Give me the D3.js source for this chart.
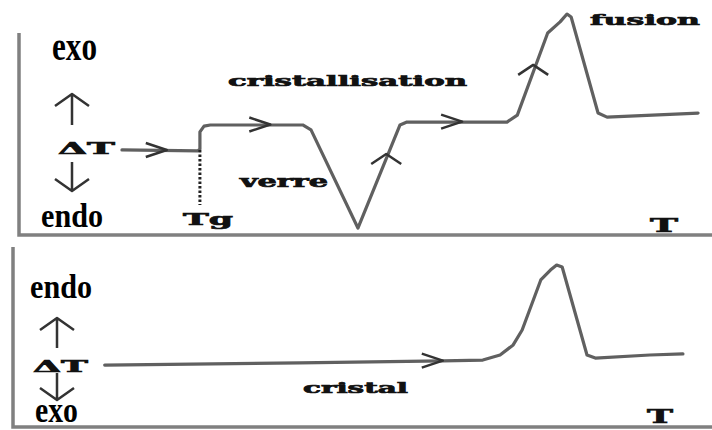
<!DOCTYPE html>
<html>
<head>
<meta charset="utf-8">
<script src="https://cdn.jsdelivr.net/npm/d3@7"></script>
<style>
  body { margin: 0; background: #fff; }
  svg { display: block; }
  .big { font-family: "Liberation Serif", serif; font-weight: bold; fill: #000; }
  .small { font-family: "DejaVu Serif", serif; font-weight: bold; fill: #111; stroke: #111; stroke-width: 0.7; }
</style>
</head>
<body>
<div id="d3-container"></div>
<script>
/**
 * DATA (arbitrary units: T from 0 to 100, ΔT from 0 to 100 in each panel)
 * */
// top panel: glass -> Tg -> crystallisation -> melting
const glassT = [15.5, 26.5, 26.8, 26.8, 27.4, 28.3, 41.7, 42.9, 49.7, 55.8, 56.8, 71.3, 72.8, 77.2, 79.0, 80.0, 80.6, 84.5, 85.8, 99.0];
const glassDT = [37.8, 37.4, 38.2, 45.8, 48.4, 48.9, 48.9, 46.7, 3.1, 48.9, 50.2, 50.2, 53.3, 89.8, 94.7, 98.2, 96.9, 54.2, 52.4, 54.2];
// bottom panel: crystal -> melting
const crystalT = [13.0, 41.3, 62.0, 67.8, 70.3, 72.2, 73.5, 76.2, 77.6, 78.5, 79.3, 82.9, 84.1, 92.0, 96.8];
const crystalDT = [34.4, 35.6, 36.7, 37.2, 40.0, 45.6, 53.9, 81.7, 87.2, 90.0, 88.9, 40.0, 38.3, 40.0, 40.6];
// direction markers along the curves
const glassArrows = [
  { T: 22.0, v: 37.8, dir: "right" },
  { T: 37.0, v: 49.1, dir: "right" },
  { T: 53.8, v: 36.0, dir: "up" },
  { T: 64.8, v: 50.4, dir: "right" },
  { T: 75.1, v: 75.6, dir: "up" }
];
const crystalArrows = [
  { T: 62.0, v: 36.9, dir: "right" }
];
const tgValue = 26.8;

const width = 712, height = 430;

const svg = d3.select("#d3-container")
  .append("svg")
  .attr("width", width)
  .attr("height", height);

// scales
const x = d3.scaleLinear().domain([0, 100]).range([15, 705]);
const yTop = d3.scaleLinear().domain([0, 100]).range([235, 10]);
const yBot = d3.scaleLinear().domain([0, 100]).range([427, 247]);

// axes frames (left + bottom lines of each panel)
const axisColor = "#808080";
svg.append("path")
  .attr("d", "M19,33 V235 H712")
  .attr("fill", "none").attr("stroke", axisColor).attr("stroke-width", 3.5);
svg.append("path")
  .attr("d", "M13,247 V427 H712")
  .attr("fill", "none").attr("stroke", axisColor).attr("stroke-width", 3.5);

// curves
function drawCurve(ts, vs, y) {
  const pts = ts.map((t, i) => [x(t), y(vs[i])]);
  svg.append("path")
    .attr("d", d3.line().curve(d3.curveLinear)(pts))
    .attr("fill", "none")
    .attr("stroke", "#606060")
    .attr("stroke-width", 3.2)
    .attr("stroke-linejoin", "round")
    .attr("stroke-linecap", "round");
}
drawCurve(glassT, glassDT, yTop);
drawCurve(crystalT, crystalDT, yBot);

// chevrons on the curves
function drawChevrons(arrows, y) {
  svg.selectAll(null)
    .data(arrows)
    .join("path")
    .attr("d", d => {
      const px = x(d.T), py = y(d.v);
      if (d.dir === "right") return `M${px - 21},${py - 7} L${px},${py} L${px - 21},${py + 7}`;
      return `M${px - 15},${py + 10} L${px},${py} L${px + 15},${py + 10}`;
    })
    .attr("fill", "none")
    .attr("stroke", "#333")
    .attr("stroke-width", 2.5)
    .attr("stroke-linejoin", "round");
}
drawChevrons(glassArrows, yTop);
drawChevrons(crystalArrows, yBot);

// Tg dotted line
svg.append("line")
  .attr("x1", x(tgValue)).attr("x2", x(tgValue))
  .attr("y1", yTop(37.8)).attr("y2", 205)
  .attr("stroke", "#222").attr("stroke-width", 3)
  .attr("stroke-dasharray", "2.5,2");

// vertical ΔT arrows
function vArrow(cx, y1, y2, up) {
  const tip = up ? y1 : y2;
  const s = up ? 1 : -1;
  svg.append("path")
    .attr("d", `M${cx},${y1} V${y2} M${cx - 17},${tip + s * 12} L${cx},${tip} L${cx + 17},${tip + s * 12}`)
    .attr("fill", "none").attr("stroke", "#333").attr("stroke-width", 2.5)
    .attr("stroke-linejoin", "round");
}
vArrow(72, 94, 125, true);
vArrow(72, 162, 191, false);
vArrow(57, 318, 348, true);
vArrow(57, 373, 400, false);

// labels
function label(cls, txt, x0, base, size, len, sy) {
  svg.append("text")
    .attr("class", cls)
    .attr("transform", `translate(${x0},${base}) scale(1,${sy})`)
    .attr("font-size", size)
    .attr("textLength", len)
    .attr("lengthAdjust", "spacingAndGlyphs")
    .text(txt);
}
label("big", "exo", 52, 60, 30, 45, 1.3);
label("big", "endo", 41, 227, 30, 62, 1.15);
label("big", "endo", 30, 298, 30, 62, 1.15);
label("big", "exo", 35, 422, 27, 43, 1.3);

label("small", "ΔT", 58, 154, 17, 57, 1);
label("small", "ΔT", 33, 372, 17, 55, 1);
label("small", "cristallisation", 228, 86, 15, 239, 1);
label("small", "verre", 240, 187, 16, 88, 1);
label("small", "fusion", 590, 25, 15, 110, 1);
label("small", "Tg", 183, 225, 17, 50, 1);
label("small", "T", 650, 232, 19, 28, 1);
label("small", "cristal", 303, 393, 15, 105, 1);
label("small", "T", 647, 423, 19, 26, 1);
</script>
</body>
</html>
